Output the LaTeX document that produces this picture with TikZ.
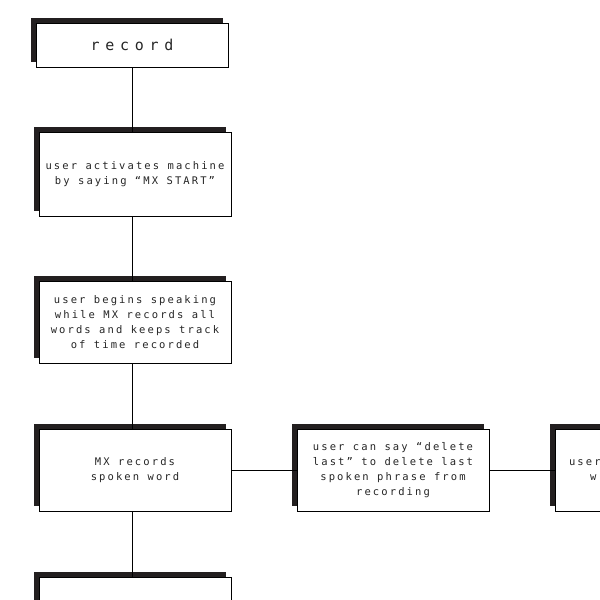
\documentclass[tikz,border=0pt]{standalone}
\usepackage{fontspec}
\usetikzlibrary{shadows, positioning, calc}
\definecolor{ShadowBlack}{RGB}{35,31,32}
\newfontfamily\stepfont[LetterSpace=20]{DejaVu Sans Mono}
\newfontfamily\headfont[LetterSpace=38]{DejaVu Sans Mono}

\begin{document}
\begin{tikzpicture}[x=1pt, y=-1pt,
    flowbox/.style={draw=black, line width=1pt, fill=white, minimum width=192pt, minimum height=82pt,
      inner sep=2pt, align=center, text=black!85, font=\stepfont\fontsize{10.5}{15}\selectfont,
      general shadow={fill=ShadowBlack, shadow xshift=-5pt, shadow yshift=5pt}},
    link/.style={draw=black, line width=0.9pt}]
    \useasboundingbox (0,0) rectangle (600,600);
    \clip (0,0) rectangle (600,600);
    \node[flowbox, minimum height=44pt, font=\headfont\fontsize{15}{17}\selectfont] (rec) at (132,45) {record};
    \node[flowbox, minimum height=84pt] (act) at (135,174) {user activates machine\\by saying “MX START”};
    \node[flowbox] (beg) at (135,322) {user begins speaking\\while MX records all\\words and keeps track\\of time recorded};
    \node[flowbox] (word) at (135,470) {MX records\\spoken word};
    \node[flowbox] (del) at (393,470) {user can say “delete\\last” to delete last\\spoken phrase from\\recording};
    \node[flowbox, align=left, text width=184pt] (next) at (651,470) {\hspace*{10pt}user\\\hspace*{31pt}w};
    \node[flowbox] (more) at (135,618) {};
    \draw[link] (rec.south) -- (rec.south |- act.north);
    \draw[link] (act.south -| rec.south) -- (beg.north -| rec.south);
    \draw[link] (beg.south -| rec.south) -- (word.north -| rec.south);
    \draw[link] (word.south -| rec.south) -- (more.north -| rec.south);
    \draw[link] (word) -- (del);
    \draw[link] (del) -- (next);
\end{tikzpicture}
\end{document}
